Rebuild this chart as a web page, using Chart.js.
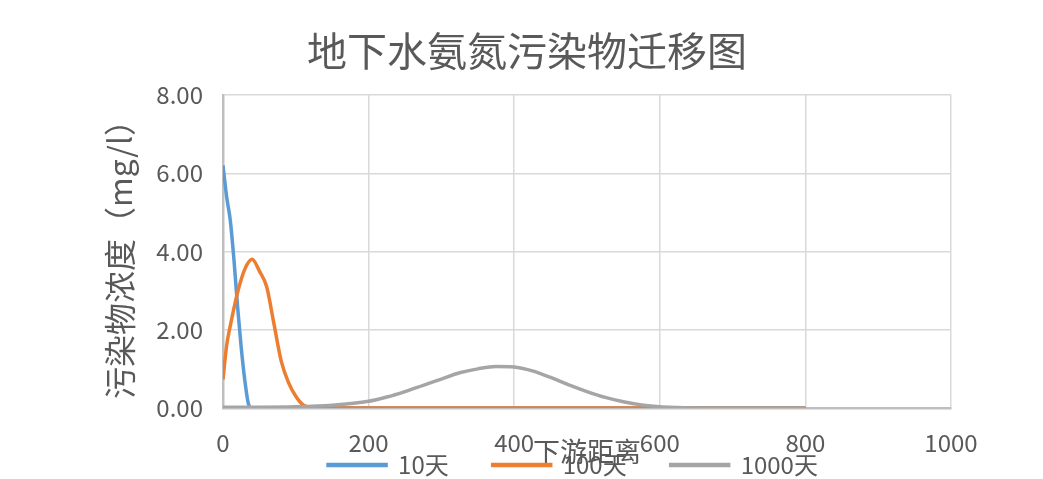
<!DOCTYPE html>
<html>
<head>
<meta charset="utf-8">
<script src="https://cdn.jsdelivr.net/npm/chart.js@4.4.1/dist/chart.umd.min.js"></script>
<style>
    html, body { margin: 0; padding: 0; background: #fff; }
    #wrap { width: 1043px; height: 479px; position: relative; }
</style>
</head>
<body>
<div id="wrap"><canvas id="chart"></canvas></div>
<script>
// 下游距离 (m) 与浓度 (mg/l)
const distance10 = [0, 5, 10, 15, 20, 25, 30, 35, 40, 100, 200, 300, 400, 500, 600, 700, 800];
const conc10 = [6.2, 5.4, 4.8, 3.8, 2.6, 1.55, 0.7, 0.1, 0, 0, 0, 0, 0, 0, 0, 0, 0];

const distance100 = [0, 5, 10, 20, 30, 40, 50, 60, 70, 80, 90, 100, 110, 120, 130, 200, 300, 400, 500, 600, 700, 800];
const conc100 = [0.73, 1.6, 2.1, 2.95, 3.55, 3.8, 3.5, 3.1, 2.15, 1.2, 0.65, 0.3, 0.08, 0.02, 0, 0, 0, 0, 0, 0, 0, 0];

const distance1000 = [0, 50, 100, 150, 200, 225, 250, 275, 300, 325, 350, 375, 400, 425, 450, 475, 500, 525, 550, 575, 600, 625, 650, 700, 750, 800];
const conc1000 = [0.02, 0.02, 0.03, 0.07, 0.17, 0.28, 0.42, 0.58, 0.74, 0.9, 1.0, 1.06, 1.05, 0.95, 0.78, 0.59, 0.42, 0.27, 0.16, 0.08, 0.03, 0.01, 0, 0, 0, 0];

const seriesNames = ['10天', '100天', '1000天'];
const seriesColors = ['#5b9bd5', '#ed7d31', '#a5a5a5'];

const xTicks = [0, 200, 400, 600, 800, 1000];
const yTicks = [0, 2, 4, 6, 8];

const textColor = '#595959';
Chart.defaults.font.family = "'Noto Sans CJK SC', 'Noto Sans', sans-serif";
Chart.defaults.color = textColor;

const toPoints = (xs, ys) => xs.map((x, i) => ({ x, y: ys[i] }));

function lineSet(index, xs, ys) {
    return {
        label: seriesNames[index],
        data: toPoints(xs, ys),
        borderColor: seriesColors[index],
        backgroundColor: seriesColors[index],
        borderWidth: 3.5,
        pointRadius: 0,
        cubicInterpolationMode: 'monotone',
        // Excel draws later series on top
        order: 3 - index,
    };
}

// legend sits a little left of the plot centre in the reference
const legendShift = {
    id: 'legendShift',
    afterLayout(chart) {
        chart.legend.left -= 14;
        chart.legend.right -= 14;
    },
};

new Chart(document.getElementById('chart'), {
    type: 'line',
    data: {
        datasets: [
            lineSet(0, distance10, conc10),
            lineSet(1, distance100, conc100),
            lineSet(2, distance1000, conc1000),
        ],
    },
    plugins: [legendShift],
    options: {
        responsive: true,
        maintainAspectRatio: false,
        animation: false,
        layout: {
            padding: { left: 103, right: 92, top: 0, bottom: 0 },
        },
        plugins: {
            title: {
                display: true,
                text: '地下水氨氮污染物迁移图',
                color: textColor,
                font: { size: 40, weight: 'normal' },
                padding: { top: 27, bottom: 20 },
            },
            legend: {
                position: 'bottom',
                fullSize: false,
                maxHeight: 70,
                labels: {
                    color: textColor,
                    font: { size: 24 },
                    boxWidth: 58,
                    boxHeight: 1,
                    padding: 44,
                    sort: (a, b) => a.datasetIndex - b.datasetIndex,
                },
            },
            tooltip: { enabled: false },
        },
        scales: {
            x: {
                type: 'linear',
                min: 0,
                max: 1000,
                afterBuildTicks(scale) {
                    scale.ticks = xTicks.map((value) => ({ value }));
                },
                afterFit(scale) {
                    scale.height = 1;
                },
                ticks: {
                    color: textColor,
                    font: { size: 24 },
                    // mirrored with a negative padding: labels stay below the axis
                    // and are not clipped to the (thin) scale box
                    mirror: true,
                    padding: -49,
                    maxRotation: 0,
                    callback(value) {
                        return String(value);
                    },
                },
                grid: {
                    color: '#d9d9d9',
                    lineWidth: 1.5,
                    drawTicks: false,
                },
                border: {
                    color: '#bfbfbf',
                    width: 2.5,
                },
                title: {
                    display: true,
                    text: '下游距离',
                    color: textColor,
                    font: { size: 27 },
                    padding: { top: 0, bottom: -59 },
                },
            },
            y: {
                min: 0,
                max: 8,
                afterBuildTicks(scale) {
                    scale.ticks = yTicks.map((value) => ({ value }));
                },
                afterFit(scale) {
                    scale.width = 120;
                },
                ticks: {
                    color: textColor,
                    font: { size: 24 },
                    padding: 20,
                    callback(value) {
                        return Number(value).toFixed(2);
                    },
                },
                grid: {
                    color: '#d9d9d9',
                    lineWidth: 1.5,
                    drawTicks: false,
                },
                border: {
                    color: '#bfbfbf',
                    width: 2.5,
                },
                title: {
                    display: true,
                    text: '污染物浓度（mg/l）',
                    color: textColor,
                    font: { size: 32 },
                    padding: { top: -2, bottom: 0 },
                },
            },
        },
    },
});
</script>
</body>
</html>
